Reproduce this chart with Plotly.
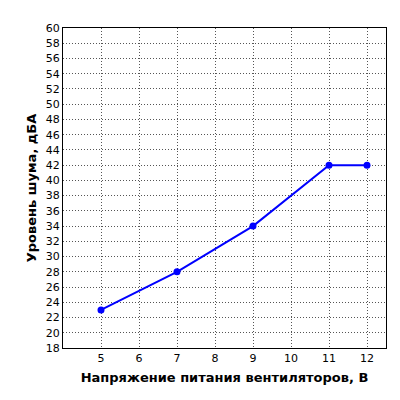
import plotly.graph_objects as go

voltage = [5, 7, 9, 11, 12]
noise = [23, 28, 34, 42, 42]
x_ticks = [5, 6, 7, 8, 9, 10, 11, 12]
y_ticks = list(range(18, 61, 2))

fig = go.Figure()
fig.add_trace(go.Scatter(
    x=voltage, y=noise, mode="lines+markers",
    line=dict(color="#0000FF", width=2),
    marker=dict(color="#0000FF", size=7),
))

axis_common = dict(
    showgrid=True, gridcolor="#555555", griddash="1px,2px", gridwidth=1,
    showline=True, linecolor="#000000", linewidth=1, mirror=True,
    zeroline=False, ticks="", automargin=False,
    tickfont=dict(family="DejaVu Sans", size=11, color="#000"),
)

fig.update_xaxes(range=[4, 12.5], tickvals=x_ticks,
                 title=dict(text="<b>Напряжение питания вентиляторов, В</b>",
                            font=dict(family="DejaVu Sans", size=13, color="#000"), standoff=8),
                 **axis_common)
fig.update_yaxes(range=[18, 60], tickvals=y_ticks,
                 title=dict(text="<b>Уровень шума, дБА</b>",
                            font=dict(family="DejaVu Sans", size=13, color="#000"), standoff=6),
                 **axis_common)

fig.update_layout(
    width=400, height=400, showlegend=False,
    plot_bgcolor="#ffffff", paper_bgcolor="#ffffff",
    margin=dict(l=55, r=22, t=20, b=60),
)

fig.write_html("out.html")
